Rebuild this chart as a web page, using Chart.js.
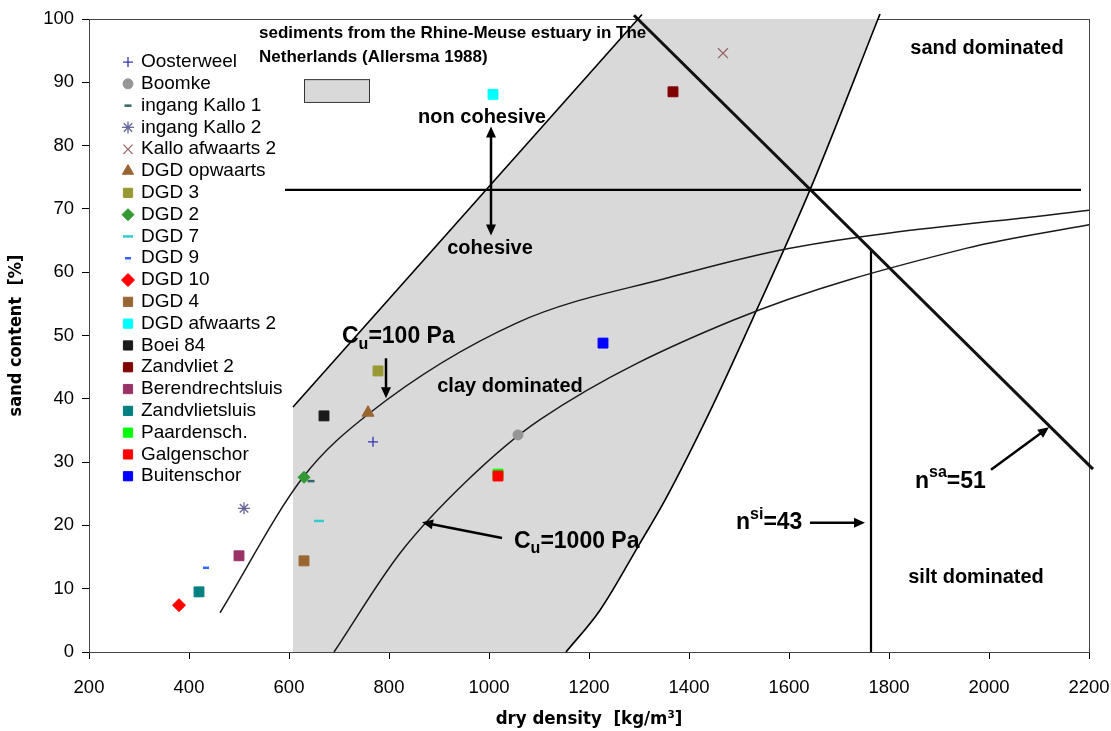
<!DOCTYPE html>
<html>
<head>
<meta charset="utf-8">
<script src="https://cdn.jsdelivr.net/npm/chart.js@4.4.0/dist/chart.umd.min.js"></script>
<style>
  html, body { margin: 0; padding: 0; background: #fff; }
  #wrap { width: 1111px; height: 731px; }
</style>
</head>
<body>
<div id="wrap"><canvas id="myChart" width="1111" height="731"></canvas></div>
<script>
// measured samples: dry density [kg/m3] vs sand content [%]
const sampleNames = ['Oosterweel', 'Boomke', 'ingang Kallo 1', 'ingang Kallo 2', 'Kallo afwaarts 2',
  'DGD opwaarts', 'DGD 3', 'DGD 2', 'DGD 7', 'DGD 9', 'DGD 10', 'DGD 4', 'DGD afwaarts 2',
  'Boei 84', 'Zandvliet 2', 'Berendrechtsluis', 'Zandvlietsluis', 'Paardensch.', 'Galgenschor', 'Buitenschor'];
const sampleDensity = [768, 1058, 644, 510, 1468, 758, 778, 630, 660, 434, 380, 630, 1008, 670, 1368, 500, 420, 1018, 1018, 1228];
const sampleSand = [33.2, 34.3, 27.0, 22.7, 94.6, 37.8, 44.4, 27.6, 20.7, 13.3, 7.4, 14.4, 88.1, 37.3, 88.5, 15.2, 9.5, 28.1, 27.8, 48.8];

// Cu iso-lines
const cu100Density = [462, 628, 762, 1056, 1362, 1602, 2200];
const cu100Sand = [6.2, 27.6, 37.8, 52.0, 59.2, 63.8, 69.8];
const cu1000Density = [690, 822, 958, 1102, 1488, 1956, 2200];
const cu1000Sand = [0, 15.6, 27.2, 36.7, 52.4, 63.8, 67.5];

// Allersma band (Rhine-Meuse sediments)
const bandDensity = [608, 608, 1298, 1778, 1642, 1526, 1446, 1352, 1302, 1222, 1154];
const bandSand = [0, 38.7, 100, 100, 73.0, 52.4, 38.7, 24.0, 17.2, 6.6, 0];
const bandLeftDensity = [608, 1306];
const bandLeftSand = [38.7, 100.7];
const bandRightDensity = [1154, 1222, 1302, 1352, 1446, 1526, 1642, 1778, 1782];
const bandRightSand = [0, 6.6, 17.2, 24.0, 38.7, 52.4, 73.0, 100, 100.8];

// boundaries
const cohesionDensity = [592, 2184];
const cohesionSand = [73, 73];
const nsaDensity = [1290, 2208];
const nsaSand = [100.6, 28.9];
const nsiDensity = [1764, 1764];
const nsiSand = [0, 63.6];

const xTicks = [200, 400, 600, 800, 1000, 1200, 1400, 1600, 1800, 2000, 2200];
const yTicks = [0, 10, 20, 30, 40, 50, 60, 70, 80, 90, 100];

const FONT = '"Liberation Sans", Arial, sans-serif';

const markerStyle = {
  'Oosterweel':       { style: 'cross',    r: 5,   color: '#3535b5', lw: 1.3 },
  'Boomke':           { style: 'circle',   r: 5,   color: '#969696', lw: 1 },
  'ingang Kallo 1':   { style: 'line',     r: 3.5, color: '#336666', lw: 2.5 },
  'ingang Kallo 2':   { style: 'star',     r: 6,   color: '#666699', lw: 1.3 },
  'Kallo afwaarts 2': { style: 'crossRot', r: 7,   color: '#996666', lw: 1.3 },
  'DGD opwaarts':     { style: 'triangle', r: 7,   color: '#996633', lw: 1 },
  'DGD 3':            { style: 'rect',     r: 7,   color: '#999933', lw: 1 },
  'DGD 2':            { style: 'rectRot',  r: 6,   color: '#339933', lw: 1 },
  'DGD 7':            { style: 'line',     r: 5,   color: '#33cccc', lw: 2.5 },
  'DGD 9':            { style: 'line',     r: 3,   color: '#3366ff', lw: 2.5 },
  'DGD 10':           { style: 'rectRot',  r: 6.5, color: '#ff0000', lw: 1 },
  'DGD 4':            { style: 'rect',     r: 7,   color: '#996633', lw: 1 },
  'DGD afwaarts 2':   { style: 'rect',     r: 7,   color: '#00ffff', lw: 1 },
  'Boei 84':          { style: 'rect',     r: 7,   color: '#1a1a1a', lw: 1 },
  'Zandvliet 2':      { style: 'rect',     r: 7,   color: '#800000', lw: 1 },
  'Berendrechtsluis': { style: 'rect',     r: 7,   color: '#993366', lw: 1 },
  'Zandvlietsluis':   { style: 'rect',     r: 7,   color: '#008080', lw: 1 },
  'Paardensch.':      { style: 'rect',     r: 7,   color: '#00ff00', lw: 1 },
  'Galgenschor':      { style: 'rect',     r: 7,   color: '#ff0000', lw: 1 },
  'Buitenschor':      { style: 'rect',     r: 7,   color: '#0000ff', lw: 1 }
};

function pts(xs, ys) { return xs.map((x, i) => ({ x: x, y: ys[i] })); }

function lineSet(label, xs, ys, width, extra) {
  return Object.assign({
    label: label, data: pts(xs, ys), showLine: true, pointRadius: 0,
    borderColor: '#000', borderWidth: width, fill: false, order: 5, clip: false
  }, extra || {});
}

const datasets = [];
sampleNames.forEach((name, i) => {
  const m = markerStyle[name];
  datasets.push({
    label: name, data: [{ x: sampleDensity[i], y: sampleSand[i] }], inLegend: true,
    pointStyle: m.style, pointRadius: m.r, pointBorderWidth: m.lw,
    backgroundColor: m.color, borderColor: m.color, showLine: false, order: -i
  });
});
datasets.push(lineSet('Cu=100 Pa', cu100Density, cu100Sand, 1.5, { cubicInterpolationMode: 'monotone', borderColor: '#1a1a1a' }));
datasets.push(lineSet('Cu=1000 Pa', cu1000Density, cu1000Sand, 1.5, { cubicInterpolationMode: 'monotone', borderColor: '#1a1a1a' }));
datasets.push(lineSet('band left', bandLeftDensity, bandLeftSand, 1.6));
datasets.push(lineSet('band right', bandRightDensity, bandRightSand, 1.6, { cubicInterpolationMode: 'monotone' }));
datasets.push(lineSet('cohesion', cohesionDensity, cohesionSand, 2.2));
datasets.push(lineSet('nsa', nsaDensity, nsaSand, 3, { borderColor: '#111' }));
datasets.push(lineSet('nsi', nsiDensity, nsiSand, 2.2));
datasets.push({
  label: 'band', data: pts(bandDensity, bandSand), showLine: true, pointRadius: 0,
  borderWidth: 0, backgroundColor: '#d9d9d9', fill: 'shape', order: 20
});

// text annotations, placed in data units
const notes = [
  { x: 540, y: 97.8, parts: [['sediments from the Rhine-Meuse estuary in The', 'n']], size: 17, align: 'left' },
  { x: 540, y: 94.0, parts: [['Netherlands (Allersma 1988)', 'n']], size: 17, align: 'left' },
  { x: 986, y: 84.5, parts: [['non cohesive', 'n']], size: 20, align: 'center' },
  { x: 1002, y: 63.7, parts: [['cohesive', 'n']], size: 20, align: 'center' },
  { x: 706, y: 49.8, parts: [['C', 'n'], ['u', 'sub'], ['=100 Pa', 'n']], size: 23, align: 'left' },
  { x: 1042, y: 41.9, parts: [['clay dominated', 'n']], size: 20, align: 'center' },
  { x: 1050, y: 17.5, parts: [['C', 'n'], ['u', 'sub'], ['=1000 Pa', 'n']], size: 23, align: 'left' },
  { x: 1996, y: 95.4, parts: [['sand dominated', 'n']], size: 20, align: 'center' },
  { x: 1974, y: 11.7, parts: [['silt dominated', 'n']], size: 20, align: 'center' },
  { x: 1494, y: 20.4, parts: [['n', 'n'], ['si', 'sup'], ['=43', 'n']], size: 23, align: 'left' },
  { x: 1852, y: 26.9, parts: [['n', 'n'], ['sa', 'sup'], ['=51', 'n']], size: 23, align: 'left' }
];
const arrows = [
  [1004, 73, 1004, 83.0],
  [1004, 73, 1004, 65.8],
  [794, 46.4, 794, 40.1],
  [1026, 18.0, 866, 20.5],
  [1642, 20.4, 1752, 20.4],
  [2004, 28.8, 2120, 35.5]
];

function richText(ctx, x, y, parts, size, align) {
  const fontFor = (k) => 'bold ' + (k === 'n' ? size : Math.round(size * 0.68)) + 'px ' + FONT;
  let total = 0;
  parts.forEach(([t, k]) => { ctx.font = fontFor(k); total += ctx.measureText(t).width; });
  let cx = align === 'center' ? x - total / 2 : x;
  ctx.textBaseline = 'middle';
  ctx.textAlign = 'left';
  parts.forEach(([t, k]) => {
    ctx.font = fontFor(k);
    const dy = k === 'sub' ? size * 0.32 : (k === 'sup' ? -size * 0.38 : 0);
    ctx.fillText(t, cx, y + dy);
    cx += ctx.measureText(t).width;
  });
}

function drawArrow(ctx, x1, y1, x2, y2) {
  const a = Math.atan2(y2 - y1, x2 - x1);
  const head = 11, w = 5;
  const bx = x2 - head * Math.cos(a), by = y2 - head * Math.sin(a);
  ctx.lineWidth = 2.5;
  ctx.beginPath();
  ctx.moveTo(x1, y1);
  ctx.lineTo(bx + 2 * Math.cos(a), by + 2 * Math.sin(a));
  ctx.stroke();
  ctx.beginPath();
  ctx.moveTo(x2, y2);
  ctx.lineTo(bx + w * Math.sin(a), by - w * Math.cos(a));
  ctx.lineTo(bx - w * Math.sin(a), by + w * Math.cos(a));
  ctx.closePath();
  ctx.fill();
}

const decorations = {
  id: 'decorations',
  beforeDatasetsDraw(chart) {
    const { ctx, chartArea: a } = chart;
    ctx.save();
    ctx.strokeStyle = '#444';
    ctx.lineWidth = 1;
    ctx.strokeRect(a.left + 0.5, a.top + 0.5, a.right - a.left, a.bottom - a.top);
    ctx.restore();
  },
  afterDatasetsDraw(chart) {
    const { ctx, scales: { x, y } } = chart;
    ctx.save();
    ctx.fillStyle = '#000';
    ctx.strokeStyle = '#000';
    notes.forEach(n => richText(ctx, x.getPixelForValue(n.x), y.getPixelForValue(n.y), n.parts, n.size, n.align));
    arrows.forEach(p => drawArrow(ctx, x.getPixelForValue(p[0]), y.getPixelForValue(p[1]),
      x.getPixelForValue(p[2]), y.getPixelForValue(p[3])));
    // swatch for the band next to its caption
    const rx = x.getPixelForValue(630), ry = y.getPixelForValue(90.5);
    const rw = x.getPixelForValue(760) - rx, rh = y.getPixelForValue(86.9) - ry;
    ctx.fillStyle = '#d9d9d9';
    ctx.fillRect(rx, ry, rw, rh);
    ctx.strokeStyle = '#333';
    ctx.lineWidth = 1;
    ctx.strokeRect(rx + 0.5, ry + 0.5, rw, rh);

    // sample legend inside plot area
    let ly = y.getPixelForValue(93.2);
    const lx = x.getPixelForValue(278);
    ctx.textBaseline = 'middle';
    ctx.textAlign = 'left';
    chart.data.datasets.forEach(ds => {
      if (!ds.inLegend) return;
      ctx.fillStyle = ds.backgroundColor;
      ctx.strokeStyle = ds.borderColor;
      ctx.lineWidth = ds.pointBorderWidth;
      Chart.helpers.drawPoint(ctx, { pointStyle: ds.pointStyle, radius: Math.min(ds.pointRadius, 6.5), rotation: 0, borderWidth: ds.pointBorderWidth }, lx, ly);
      ctx.fillStyle = '#000';
      ctx.font = '19px ' + FONT;
      ctx.fillText(ds.label, lx + 13, ly);
      ly += 21.8;
    });
    ctx.restore();
  }
};

function noPad(s) { s.paddingLeft = 0; s.paddingRight = 0; s.paddingTop = 0; s.paddingBottom = 0; }

const ctx = document.getElementById('myChart').getContext('2d');
const myChart = new Chart(ctx, {
  type: 'scatter',
  data: { datasets: datasets },
  plugins: [decorations],
  options: {
    responsive: false,
    animation: false,
    layout: { padding: { top: 19, right: 22, left: 0, bottom: 0 } },
    plugins: { legend: { display: false }, tooltip: { enabled: false } },
    scales: {
      x: {
        type: 'linear', min: 200, max: 2200,
        afterBuildTicks: (s) => { s.ticks = xTicks.map(v => ({ value: v })); },
        afterFit: (s) => { s.height = 79; noPad(s); },
        grid: { drawOnChartArea: false, drawTicks: true, tickLength: 7, color: '#000' },
        border: { color: '#000', width: 1 },
        ticks: { color: '#000', padding: 18, font: { family: FONT, size: 18.5 }, callback: (v) => String(v) },
        title: { display: true, text: 'dry density  [kg/m³]', color: '#000', padding: { top: 0, bottom: 1 },
          font: { family: '"Liberation Sans Narrow", "DejaVu Sans Condensed", ' + FONT, size: 18.5, weight: 'bold' } }
      },
      y: {
        type: 'linear', min: 0, max: 100,
        afterBuildTicks: (s) => { s.ticks = yTicks.map(v => ({ value: v })); },
        afterFit: (s) => { s.width = 89; noPad(s); },
        grid: { drawOnChartArea: false, drawTicks: true, tickLength: 7, color: '#000' },
        border: { color: '#000', width: 1 },
        ticks: { color: '#000', padding: 8, font: { family: FONT, size: 18.5 }, callback: (v) => String(v) },
        title: { display: true, text: 'sand content  [%]', color: '#000', padding: { top: 6, bottom: 0 },
          font: { family: '"Liberation Sans Narrow", "DejaVu Sans Condensed", ' + FONT, size: 18, weight: 'bold' } }
      }
    }
  }
});
</script>
</body>
</html>
